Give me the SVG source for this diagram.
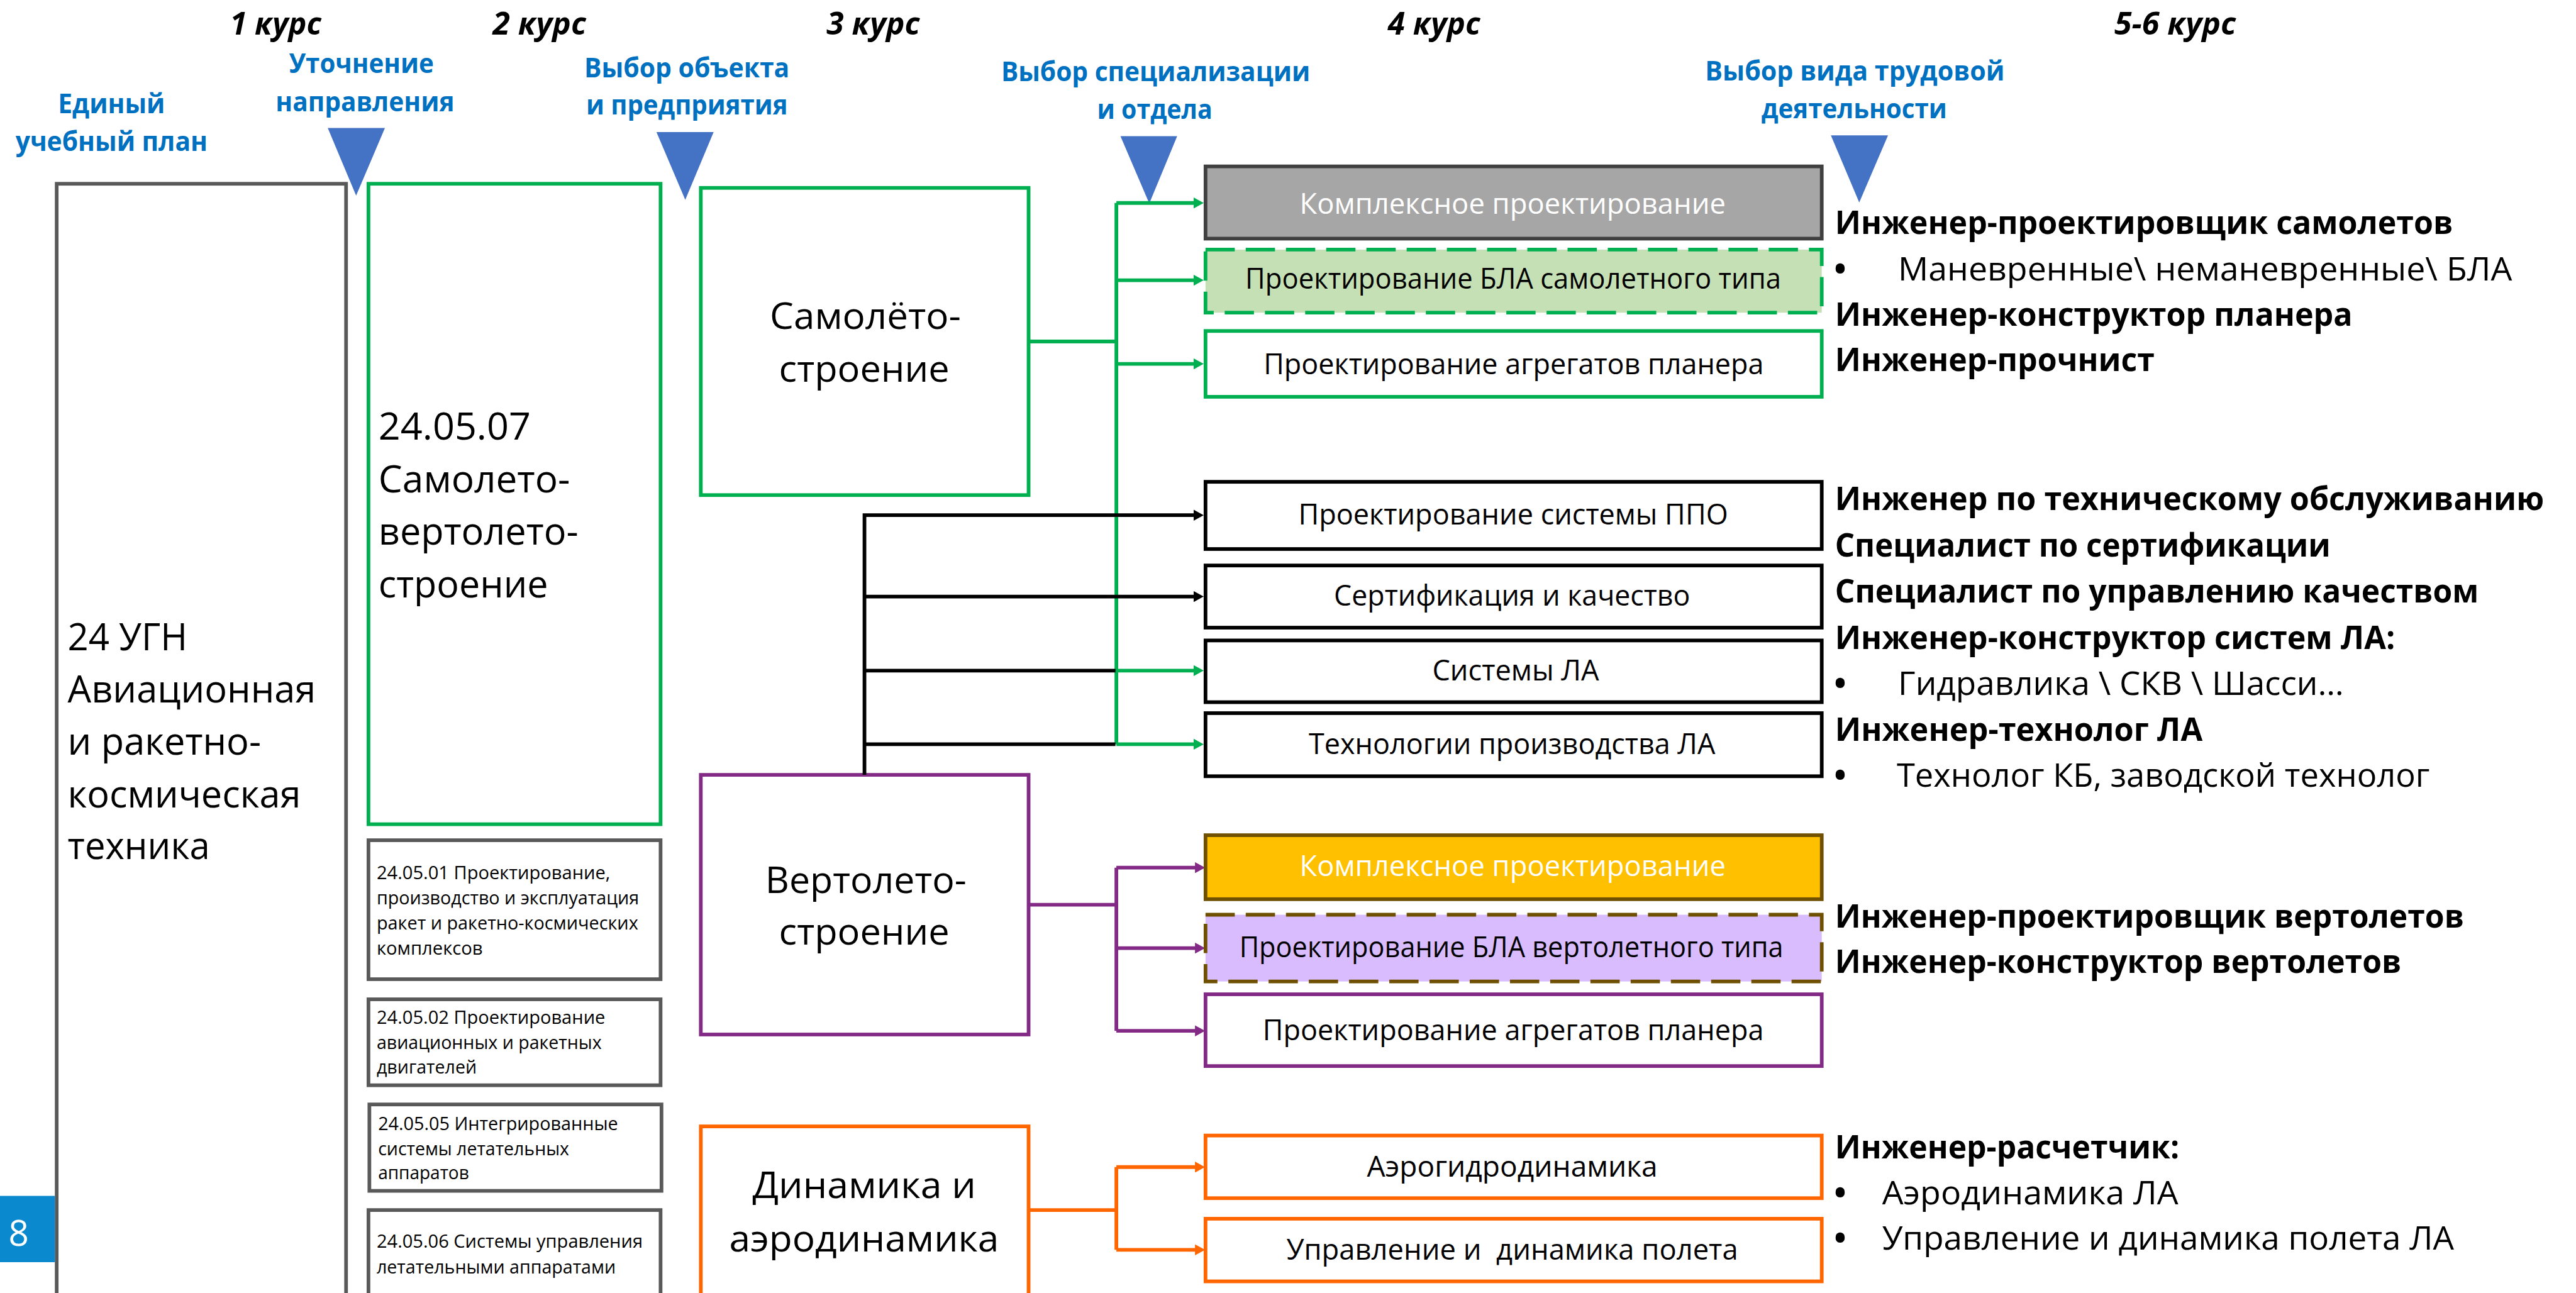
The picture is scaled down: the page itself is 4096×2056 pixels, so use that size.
<svg xmlns="http://www.w3.org/2000/svg" width="4096" height="2056" viewBox="0 0 4096 2056">
<defs>
<style>
text{font-family:"Open Sans","Noto Sans","DejaVu Sans",sans-serif}
.hd{font-size:68px;font-weight:bold;font-style:italic;fill:#000}
.bl{font-size:60px;font-weight:bold;fill:#0070C0}
.big{font-size:84px;fill:#000}
.mid{font-size:80px;fill:#000}
.lab{font-size:63px;fill:#000}
.labw{font-size:63px;fill:#fff}
.sm{font-size:39px;fill:#000}
.rb{font-size:71px;font-weight:bold;fill:#000}
.rr{font-size:71px;fill:#000}
.bu{font-size:71px;font-weight:bold;fill:#000}
.tri{fill:#4472C4}
.box{fill:#fff;stroke-width:8}
.gray{stroke:#595959}
.green{stroke:#00B050}
.black{stroke:#000}
.purple{stroke:#822A86}
.orange{stroke:#FF6600}
.cg{fill:none;stroke:#00B050;stroke-width:8}
.ck{fill:none;stroke:#000;stroke-width:8}
.cp{fill:none;stroke:#822A86;stroke-width:8}
.co{fill:none;stroke:#FF6600;stroke-width:8}
</style>
<marker id="mg" markerUnits="userSpaceOnUse" markerWidth="22" markerHeight="24" refX="2" refY="12" orient="auto"><path d="M0,0 L22,12 L0,24 z" fill="#00B050"/></marker>
<marker id="mk" markerUnits="userSpaceOnUse" markerWidth="22" markerHeight="24" refX="2" refY="12" orient="auto"><path d="M0,0 L22,12 L0,24 z" fill="#000"/></marker>
<marker id="mp" markerUnits="userSpaceOnUse" markerWidth="22" markerHeight="24" refX="2" refY="12" orient="auto"><path d="M0,0 L22,12 L0,24 z" fill="#822A86"/></marker>
<marker id="mo" markerUnits="userSpaceOnUse" markerWidth="22" markerHeight="24" refX="2" refY="12" orient="auto"><path d="M0,0 L22,12 L0,24 z" fill="#FF6600"/></marker>
</defs>
<rect x="0" y="0" width="4096" height="2056" fill="#fff"/>
<g transform="scale(0.7269)">

<g id="headers">
<text class="hd" x="503" y="76" textLength="200" lengthAdjust="spacingAndGlyphs">1 курс</text>
<text class="hd" x="1078" y="76" textLength="204" lengthAdjust="spacingAndGlyphs">2 курс</text>
<text class="hd" x="1808" y="76" textLength="204" lengthAdjust="spacingAndGlyphs">3 курс</text>
<text class="hd" x="3036" y="76" textLength="202" lengthAdjust="spacingAndGlyphs">4 курс</text>
<text class="hd" x="4625" y="76" textLength="266" lengthAdjust="spacingAndGlyphs">5-6 курс</text>
</g>

<g id="stages">
<text class="bl" x="127" y="247" textLength="234" lengthAdjust="spacingAndGlyphs">Единый</text>
<text class="bl" x="34" y="330" textLength="420" lengthAdjust="spacingAndGlyphs">учебный план</text>
<text class="bl" x="632" y="160" textLength="317" lengthAdjust="spacingAndGlyphs">Уточнение</text>
<text class="bl" x="603" y="243" textLength="391" lengthAdjust="spacingAndGlyphs">направления</text>
<text class="bl" x="1278" y="169" textLength="449" lengthAdjust="spacingAndGlyphs">Выбор объекта</text>
<text class="bl" x="1282" y="251" textLength="441" lengthAdjust="spacingAndGlyphs">и предприятия</text>
<text class="bl" x="2190" y="177" textLength="676" lengthAdjust="spacingAndGlyphs">Выбор специализации</text>
<text class="bl" x="2400" y="260" textLength="252" lengthAdjust="spacingAndGlyphs">и отдела</text>
<text class="bl" x="3730" y="176" textLength="655" lengthAdjust="spacingAndGlyphs">Выбор вида трудовой</text>
<text class="bl" x="3853" y="258" textLength="406" lengthAdjust="spacingAndGlyphs">деятельности</text>
<polygon class="tri" points="717,280 842,280 779,428"/>
<polygon class="tri" points="1436,289 1561,289 1499,437"/>
<polygon class="tri" points="2451,298 2575,298 2514,445"/>
<polygon class="tri" points="4005,296 4130,296 4067,443"/>
</g>

<g id="ugn">
<rect class="box gray" x="124" y="402" width="633" height="2600"/>
<text class="big" x="148" y="1422" textLength="262" lengthAdjust="spacingAndGlyphs">24 УГН</text>
<text class="big" x="148" y="1537" textLength="543" lengthAdjust="spacingAndGlyphs">Авиационная</text>
<text class="big" x="148" y="1651" textLength="423" lengthAdjust="spacingAndGlyphs">и ракетно-</text>
<text class="big" x="148" y="1766" textLength="510" lengthAdjust="spacingAndGlyphs">космическая</text>
<text class="big" x="148" y="1879" textLength="311" lengthAdjust="spacingAndGlyphs">техника</text>
</g>

<g id="spec-240507">
<rect class="box green" x="806" y="402" width="639" height="1401"/>
<text class="big" x="828" y="962" textLength="333" lengthAdjust="spacingAndGlyphs">24.05.07</text>
<text class="big" x="828" y="1077" textLength="419" lengthAdjust="spacingAndGlyphs">Самолето-</text>
<text class="big" x="828" y="1192" textLength="437" lengthAdjust="spacingAndGlyphs">вертолето-</text>
<text class="big" x="828" y="1307" textLength="371" lengthAdjust="spacingAndGlyphs">строение</text>
</g>

<g id="spec-240501">
<rect class="box gray" x="806" y="1838" width="639" height="304"/>
<text class="sm" x="824" y="1923" textLength="511" lengthAdjust="spacingAndGlyphs">24.05.01 Проектирование,</text>
<text class="sm" x="824" y="1978" textLength="574" lengthAdjust="spacingAndGlyphs">производство и эксплуатация</text>
<text class="sm" x="824" y="2033" textLength="572" lengthAdjust="spacingAndGlyphs">ракет и ракетно-космических</text>
<text class="sm" x="824" y="2089" textLength="232" lengthAdjust="spacingAndGlyphs">комплексов</text>
</g>
<g id="spec-240502">
<rect class="box gray" x="806" y="2186" width="639" height="188"/>
<text class="sm" x="824" y="2239" textLength="500" lengthAdjust="spacingAndGlyphs">24.05.02 Проектирование</text>
<text class="sm" x="824" y="2295" textLength="492" lengthAdjust="spacingAndGlyphs">авиационных и ракетных</text>
<text class="sm" x="824" y="2348" textLength="219" lengthAdjust="spacingAndGlyphs">двигателей</text>
</g>
<g id="spec-240505">
<rect class="box gray" x="808" y="2416" width="639" height="189"/>
<text class="sm" x="827" y="2472" textLength="525" lengthAdjust="spacingAndGlyphs">24.05.05 Интегрированные</text>
<text class="sm" x="827" y="2527" textLength="418" lengthAdjust="spacingAndGlyphs">системы летательных</text>
<text class="sm" x="827" y="2580" textLength="199" lengthAdjust="spacingAndGlyphs">аппаратов</text>
</g>
<g id="spec-240506">
<rect class="box gray" x="806" y="2647" width="639" height="400"/>
<text class="sm" x="824" y="2730" textLength="582" lengthAdjust="spacingAndGlyphs">24.05.06 Системы управления</text>
<text class="sm" x="824" y="2786" textLength="523" lengthAdjust="spacingAndGlyphs">летательными аппаратами</text>
</g>

<g id="page-number">
<rect x="0" y="2616" width="120" height="145" fill="#0A89CF"/>
<text x="41" y="2725" font-size="78" fill="#fff" text-anchor="middle">8</text>
</g>

<g id="samolet">
<rect class="box green" x="1533" y="411" width="717" height="672"/>
<text class="mid" x="1684" y="720" textLength="418" lengthAdjust="spacingAndGlyphs">Самолёто-</text>
<text class="mid" x="1704" y="835" textLength="373" lengthAdjust="spacingAndGlyphs">строение</text>
</g>
<g id="vertolet">
<rect class="box purple" x="1533" y="1695" width="717" height="568"/>
<text class="mid" x="1674" y="1953" textLength="440" lengthAdjust="spacingAndGlyphs">Вертолето-</text>
<text class="mid" x="1704" y="2066" textLength="373" lengthAdjust="spacingAndGlyphs">строение</text>
</g>
<g id="dinamika">
<rect class="box orange" x="1533" y="2464" width="717" height="600"/>
<text class="mid" x="1646" y="2621" textLength="489" lengthAdjust="spacingAndGlyphs">Динамика и</text>
<text class="mid" x="1595" y="2738" textLength="590" lengthAdjust="spacingAndGlyphs">аэродинамика</text>
</g>

<g id="connectors">
<path class="cg" d="M2250,747 H2442 M2442,444 V1628"/>
<path class="cg" d="M2442,444 H2613" marker-end="url(#mg)"/>
<path class="cg" d="M2442,613 H2613" marker-end="url(#mg)"/>
<path class="cg" d="M2442,796 H2613" marker-end="url(#mg)"/>
<path class="cg" d="M2442,1467 H2613" marker-end="url(#mg)"/>
<path class="cg" d="M2442,1628 H2613" marker-end="url(#mg)"/>
<path class="ck" d="M1891,1695 V1127 H2613" marker-end="url(#mk)"/>
<path class="ck" d="M1891,1305 H2613" marker-end="url(#mk)"/>
<path class="ck" d="M1891,1467 H2440 M1891,1628 H2440"/>
<path class="cp" d="M2250,1979 H2442 M2442,1898 V2255"/>
<path class="cp" d="M2442,1898 H2616" marker-end="url(#mp)"/>
<path class="cp" d="M2442,2074 H2616" marker-end="url(#mp)"/>
<path class="cp" d="M2442,2255 H2616" marker-end="url(#mp)"/>
<path class="co" d="M2250,2647 H2442 M2442,2553 V2734"/>
<path class="co" d="M2442,2553 H2616" marker-end="url(#mo)"/>
<path class="co" d="M2442,2734 H2616" marker-end="url(#mo)"/>
</g>

<g id="kompleks-samolet">
<rect x="2637" y="364" width="1348" height="158" fill="#A6A6A6" stroke="#404040" stroke-width="8"/>
<text class="labw" x="2843" y="468" textLength="932" lengthAdjust="spacingAndGlyphs">Комплексное проектирование</text>
</g>
<g id="bla-samolet">
<rect x="2637" y="546" width="1348" height="138" fill="#C5E0B4" stroke="#00B050" stroke-width="8" stroke-dasharray="64 24"/>
<text class="lab" x="2724" y="631" textLength="1172" lengthAdjust="spacingAndGlyphs">Проектирование БЛА самолетного типа</text>
</g>
<g id="agregaty-samolet">
<rect class="box green" x="2637" y="724" width="1348" height="144"/>
<text class="lab" x="2764" y="819" textLength="1094" lengthAdjust="spacingAndGlyphs">Проектирование агрегатов планера</text>
</g>
<g id="ppo">
<rect class="box black" x="2637" y="1054" width="1348" height="147"/>
<text class="lab" x="2840" y="1147" textLength="940" lengthAdjust="spacingAndGlyphs">Проектирование системы ППО</text>
</g>
<g id="sertif">
<rect class="box black" x="2637" y="1237" width="1348" height="136"/>
<text class="lab" x="2918" y="1325" textLength="779" lengthAdjust="spacingAndGlyphs">Сертификация и качество</text>
</g>
<g id="sistemy">
<rect class="box black" x="2637" y="1401" width="1348" height="135"/>
<text class="lab" x="3133" y="1488" textLength="365" lengthAdjust="spacingAndGlyphs">Системы ЛА</text>
</g>
<g id="tehnologii">
<rect class="box black" x="2637" y="1560" width="1348" height="138"/>
<text class="lab" x="2863" y="1649" textLength="889" lengthAdjust="spacingAndGlyphs">Технологии производства ЛА</text>
</g>
<g id="kompleks-vertolet">
<rect x="2637" y="1827" width="1348" height="140" fill="#FFC000" stroke="#6E5000" stroke-width="8"/>
<text class="labw" x="2843" y="1917" textLength="932" lengthAdjust="spacingAndGlyphs">Комплексное проектирование</text>
</g>
<g id="bla-vertolet">
<rect x="2637" y="2001" width="1348" height="146" fill="#D9BCFD" stroke="#6E5000" stroke-width="8" stroke-dasharray="64 24"/>
<text class="lab" x="2711" y="2094" textLength="1190" lengthAdjust="spacingAndGlyphs">Проектирование БЛА вертолетного типа</text>
</g>
<g id="agregaty-vertolet">
<rect class="box purple" x="2637" y="2175" width="1348" height="157"/>
<text class="lab" x="2762" y="2276" textLength="1096" lengthAdjust="spacingAndGlyphs">Проектирование агрегатов планера</text>
</g>
<g id="aerogidro">
<rect class="box orange" x="2637" y="2484" width="1348" height="137"/>
<text class="lab" x="2990" y="2574" textLength="636" lengthAdjust="spacingAndGlyphs">Аэрогидродинамика</text>
</g>
<g id="upravlenie">
<rect class="box orange" x="2637" y="2666" width="1348" height="137"/>
<text class="lab" x="2814" y="2756" textLength="988" lengthAdjust="spacingAndGlyphs" xml:space="preserve">Управление и  динамика полета</text>
</g>

<g id="professions">
<text class="rb" x="4014" y="512" textLength="1352" lengthAdjust="spacingAndGlyphs">Инженер-проектировщик самолетов</text>
<text class="bu" x="4012" y="614">•</text>
<text class="rr" x="4152" y="614" textLength="1343" lengthAdjust="spacingAndGlyphs">Маневренные\ неманевренные\ БЛА</text>
<text class="rb" x="4014" y="712" textLength="1132" lengthAdjust="spacingAndGlyphs">Инженер-конструктор планера</text>
<text class="rb" x="4014" y="812" textLength="699" lengthAdjust="spacingAndGlyphs">Инженер-прочнист</text>
<text class="rb" x="4014" y="1116" textLength="1551" lengthAdjust="spacingAndGlyphs">Инженер по техническому обслуживанию</text>
<text class="rb" x="4014" y="1217" textLength="1084" lengthAdjust="spacingAndGlyphs">Специалист по сертификации</text>
<text class="rb" x="4014" y="1318" textLength="1408" lengthAdjust="spacingAndGlyphs">Специалист по управлению качеством</text>
<text class="rb" x="4014" y="1420" textLength="1225" lengthAdjust="spacingAndGlyphs">Инженер-конструктор систем ЛА:</text>
<text class="bu" x="4012" y="1520">•</text>
<text class="rr" x="4152" y="1520" textLength="975" lengthAdjust="spacingAndGlyphs">Гидравлика \ СКВ \ Шасси…</text>
<text class="rb" x="4014" y="1621" textLength="804" lengthAdjust="spacingAndGlyphs">Инженер-технолог ЛА</text>
<text class="bu" x="4012" y="1721">•</text>
<text class="rr" x="4149" y="1721" textLength="1166" lengthAdjust="spacingAndGlyphs">Технолог КБ, заводской технолог</text>
<text class="rb" x="4014" y="2029" textLength="1376" lengthAdjust="spacingAndGlyphs">Инженер-проектировщик вертолетов</text>
<text class="rb" x="4014" y="2128" textLength="1239" lengthAdjust="spacingAndGlyphs">Инженер-конструктор вертолетов</text>
<text class="rb" x="4014" y="2534" textLength="753" lengthAdjust="spacingAndGlyphs">Инженер-расчетчик:</text>
<text class="bu" x="4012" y="2634">•</text>
<text class="rr" x="4117" y="2634" textLength="648" lengthAdjust="spacingAndGlyphs">Аэродинамика ЛА</text>
<text class="bu" x="4012" y="2734">•</text>
<text class="rr" x="4117" y="2734" textLength="1251" lengthAdjust="spacingAndGlyphs">Управление и динамика полета ЛА</text>
</g>

</g>
</svg>
